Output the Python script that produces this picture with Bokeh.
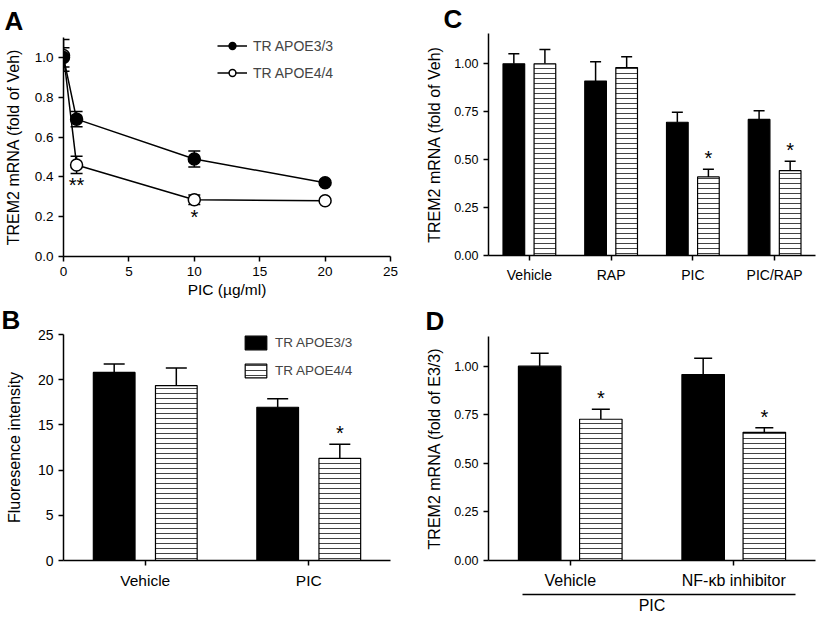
from bokeh.plotting import figure
from bokeh.layouts import row, column
from bokeh.models import (ColumnDataSource, Whisker, TeeHead, Legend, LegendItem,
                          FactorRange, Range1d, FixedTicker, PrintfTickFormatter,
                          Title, CategoricalAxis)
from bokeh.transform import dodge
from bokeh.core.properties import value
from bokeh.embed import file_html
from bokeh.resources import INLINE

FONT = "Liberation Sans"

# ---------------- data ----------------
# Panel A: dose response
a_dose = [0, 1, 10, 20]
a_e33 = [1.00, 0.69, 0.49, 0.37]
a_e33_err = [0.048, 0.038, 0.040, 0.012]
a_e44 = [1.01, 0.46, 0.285, 0.28]
a_e44_err = [0.080, 0.043, 0.024, 0.010]
a_sig = ["", "**", "*", ""]
a_xticks = [0, 5, 10, 15, 20, 25]
a_yticks = [0.0, 0.2, 0.4, 0.6, 0.8, 1.0]

# Panel B: fluorescence
b_cats = ["Vehicle", "PIC"]
b_e33 = [20.8, 16.95]
b_e33_err = [0.95, 0.95]
b_e44 = [19.35, 11.3]
b_e44_err = [1.95, 1.55]
b_sig = ["", "*"]
b_yticks = [0, 5, 10, 15, 20, 25]

# Panel C: RAP
c_cats = ["Vehicle", "RAP", "PIC", "PIC/RAP"]
c_e33 = [1.00, 0.91, 0.695, 0.71]
c_e33_err = [0.052, 0.100, 0.052, 0.045]
c_e44 = [1.00, 0.98, 0.41, 0.443]
c_e44_err = [0.075, 0.057, 0.040, 0.049]
c_sig = ["", "", "*", "*"]
c_yticks = [0.0, 0.25, 0.5, 0.75, 1.0]

# Panel D: NF-kb inhibitor
d_cats = ["Vehicle", "NF-\u03bab inhibitor"]
d_e33 = [1.00, 0.957]
d_e33_err = [0.067, 0.084]
d_e44 = [0.727, 0.66]
d_e44_err = [0.052, 0.023]
d_sig = ["*", "*"]
d_group = ["PIC"]
d_yticks = [0.0, 0.25, 0.5, 0.75, 1.0]

names = ["TR APOE3/3", "TR APOE4/4"]


def style_axes(p, tick_size, ylab_size="16px"):
    p.toolbar_location = None
    p.outline_line_color = None
    p.xgrid.visible = False
    p.ygrid.visible = False
    for ax in p.axis:
        ax.axis_line_width = 1.5
        ax.axis_line_color = "black"
        ax.major_tick_line_width = 1.5
        ax.major_tick_line_color = "black"
        ax.major_tick_in = 0
        ax.major_tick_out = 5
        ax.minor_tick_line_color = None
        ax.major_label_text_font = FONT
        ax.major_label_text_color = "black"
        ax.major_label_text_font_size = tick_size
        ax.major_label_standoff = 5
        ax.axis_label_text_font = FONT
        ax.axis_label_text_font_style = "normal"
        ax.axis_label_text_color = "black"
        ax.axis_label_text_font_size = ylab_size


def letter(p, t, offset, standoff):
    p.add_layout(Title(text=t, align="left", offset=offset, standoff=standoff,
                       text_font=FONT, text_font_style="bold",
                       text_font_size="26px", text_color="black"), "above")


def make_fig(x_range, y_range, width, height, borders):
    L, R, T, B = borders
    p = figure(width=width, height=height, x_range=x_range, y_range=y_range,
               min_border_left=L, min_border_right=R, min_border_top=T,
               min_border_bottom=B, output_backend="svg", toolbar_location=None)
    return p


# ---------------- Panel A ----------------
pA = make_fig(Range1d(0, 25), Range1d(0, 1.1), 410, 300, (63, 20, 37, 44))
srcA = ColumnDataSource(dict(x=a_dose, e33=a_e33, e44=a_e44,
                             e33_lo=[v - e for v, e in zip(a_e33, a_e33_err)],
                             e33_hi=[v + e for v, e in zip(a_e33, a_e33_err)],
                             e44_lo=[v - e for v, e in zip(a_e44, a_e44_err)],
                             e44_hi=[v + e for v, e in zip(a_e44, a_e44_err)],
                             sig=a_sig))
for key in ["e44", "e33"]:
    w = Whisker(source=srcA, base="x", lower=key + "_lo", upper=key + "_hi",
                line_width=1.5, line_color="black",
                lower_head=TeeHead(size=12, line_width=1.5, line_color="black"),
                upper_head=TeeHead(size=12, line_width=1.5, line_color="black"))
    pA.add_layout(w)
l44 = pA.line("x", "e44", source=srcA, line_color="black", line_width=1.5)
s44 = pA.scatter("x", "e44", source=srcA, size=12, fill_color="white",
                 line_color="black", line_width=1.5)
l33 = pA.line("x", "e33", source=srcA, line_color="black", line_width=1.5)
s33 = pA.scatter("x", "e33", source=srcA, size=12, fill_color="black",
                 line_color="black", line_width=1.5)
pA.text("x", "e44_lo", text="sig", source=srcA, y_offset=12, text_align="center",
        text_baseline="alphabetic", text_font=value(FONT), text_font_size="20px",
        text_color="black")
legA = Legend(items=[LegendItem(label=names[0], renderers=[l33, s33]),
                     LegendItem(label=names[1], renderers=[l44, s44])],
              location=(154, 175), padding=0, margin=0, spacing=10,
              glyph_width=30, glyph_height=17, label_height=17, label_standoff=6,
              label_text_font=FONT, label_text_font_size="14px",
              background_fill_alpha=0, border_line_color=None)
pA.add_layout(legA)
pA.xaxis.ticker = FixedTicker(ticks=a_xticks)
pA.yaxis.ticker = FixedTicker(ticks=a_yticks)
pA.yaxis.formatter = PrintfTickFormatter(format="%.1f")
pA.xaxis.axis_label = "PIC (\u00b5g/ml)"
pA.yaxis.axis_label = "TREM2 mRNA (fold of Veh)"
style_axes(pA, "13.5px")
pA.xaxis.axis_label_text_font_size = "15.5px"
pA.xaxis.axis_label_standoff = 2
pA.yaxis.axis_label_standoff = 10
letter(pA, "A", -59, 3)


def bar_panel(cats, e33, e33_err, e44, e44_err, sig, yr, off, bw, cap, width, height,
              borders, hatch_scale):
    src = ColumnDataSource(dict(cat=cats, e33=e33, e44=e44,
                                e33_hi=[v + e for v, e in zip(e33, e33_err)],
                                e44_hi=[v + e for v, e in zip(e44, e44_err)],
                                sig=sig))
    p = make_fig(FactorRange(*cats), Range1d(*yr), width, height, borders)
    r33 = p.vbar(x=dodge("cat", -off, range=p.x_range), top="e33", width=bw, source=src,
                 fill_color="black", line_color="black", line_width=1.2)
    r44 = p.vbar(x=dodge("cat", off, range=p.x_range), top="e44", width=bw, source=src,
                 fill_color="white", line_color="black", line_width=1.2,
                 hatch_pattern="horizontal_line", hatch_scale=hatch_scale,
                 hatch_weight=1, hatch_color="#444444")
    for key, o in [("e33", -off), ("e44", off)]:
        w = Whisker(source=src, base=dodge("cat", o, range=p.x_range), lower=key,
                    upper=key + "_hi", line_width=1.5, line_color="black",
                    lower_head=None,
                    upper_head=TeeHead(size=cap, line_width=1.5, line_color="black"))
        p.add_layout(w)
    p.text(x=dodge("cat", off, range=p.x_range), y="e44_hi", text="sig", source=src,
           y_offset=-11, text_align="center", text_baseline="alphabetic",
           text_font=value(FONT), text_font_size="20px", text_color="black")
    return p, r33, r44


# ---------------- Panel B ----------------
pB, b33, b44 = bar_panel(b_cats, b_e33, b_e33_err, b_e44, b_e44_err, b_sig, (0, 25),
                         0.19, 0.255, 21, 410, 318, (63, 10, 34, 58), 5)
pB.yaxis.ticker = FixedTicker(ticks=b_yticks)
pB.yaxis.axis_label = "Fluoresence intensity"
style_axes(pB, "14px")
pB.xaxis.major_label_text_font_size = "15.5px"
pB.xaxis.major_label_standoff = 6
pB.yaxis.axis_label_standoff = 12
legB = Legend(items=[LegendItem(label=names[0], renderers=[b33]),
                     LegendItem(label=names[1], renderers=[b44])],
              location=(179, 181), padding=0, margin=0, spacing=11,
              glyph_width=27, glyph_height=17, label_height=17, label_standoff=6,
              label_text_font=FONT, label_text_font_size="13.5px",
              background_fill_alpha=0, border_line_color=None)
pB.add_layout(legB)
letter(pB, "B", -62, 0)

# ---------------- Panel C ----------------
pC, c33, c44 = bar_panel(c_cats, c_e33, c_e33_err, c_e44, c_e44_err, c_sig, (0, 1.158),
                         0.19, 0.265, 11, 417, 300, (76, 12, 33, 45), 5)
pC.yaxis.ticker = FixedTicker(ticks=c_yticks)
pC.yaxis.formatter = PrintfTickFormatter(format="%.2f")
pC.yaxis.axis_label = "TREM2 mRNA (fold of Veh)"
style_axes(pC, "12.5px")
pC.xaxis.major_label_text_font_size = "14px"
pC.xaxis.major_label_standoff = 6
pC.yaxis.axis_label_standoff = 8
letter(pC, "C", -45, 0)

# ---------------- Panel D ----------------
pD, d33, d44 = bar_panel(d_cats, d_e33, d_e33_err, d_e44, d_e44_err, d_sig, (0, 1.153),
                         0.187, 0.26, 18, 417, 318, (78, 6, 36, 58), 5)
pD.yaxis.ticker = FixedTicker(ticks=d_yticks)
pD.yaxis.formatter = PrintfTickFormatter(format="%.2f")
pD.yaxis.axis_label = "TREM2 mRNA (fold of E3/3)"
pD.extra_x_ranges = {"grp": FactorRange(*d_group)}
grp_axis = CategoricalAxis(x_range_name="grp", bounds=(0.103, 0.939))
pD.add_layout(grp_axis, "below")
style_axes(pD, "12.5px")
pD.xaxis[0].major_label_text_font_size = "16px"
pD.xaxis[0].major_label_standoff = 6
pD.xaxis[0].axis_label = " "
pD.xaxis[0].axis_label_text_font_size = "5px"
pD.xaxis[0].axis_label_standoff = -6
grp_axis.major_tick_out = 0
grp_axis.major_tick_line_color = None
grp_axis.major_label_text_font_size = "16px"
grp_axis.major_label_standoff = 2
pD.yaxis.axis_label_standoff = 8
letter(pD, "D", -63, 2)

layout = row(column(pA, pB), column(pC, pD))
open("out.html", "w").write(file_html(layout, INLINE))
